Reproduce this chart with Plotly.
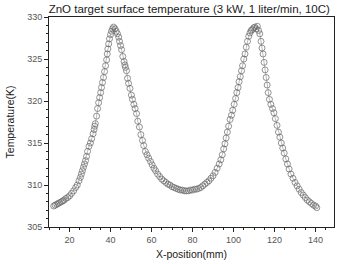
import plotly.graph_objects as go

x_pos = [12.3, 13, 13.8, 14.5, 15.2, 16, 16.7, 17.4, 18.2, 19.1, 20, 21, 22, 23, 23.8, 24.6, 25.3, 25.8,
         26.3, 26.8, 27.3, 27.8, 28.3, 28.8, 29.5, 30.2, 30.8, 31.5, 32, 32.3, 32.6, 33.2, 33.7, 34.2,
         34.7, 35.2, 35.6, 36.1, 36.6, 37.1, 37.6, 38.1, 38.4, 38.7, 39.1, 39.5, 40, 40.5, 41.0, 41.5,
         42.2, 42.8, 43.4, 44, 44.4, 44.9, 45.4, 46, 46.6, 47.0, 47.3, 47.8, 48.3, 48.8, 49.5, 50.2,
         50.7, 51.4, 52, 52.7, 53.3, 54.1, 54.8, 55.6, 56.2, 57, 57.8, 58.6, 59.5, 60.3, 61.2, 62, 63,
         64, 65, 66, 67, 68, 69, 70, 71, 72, 73, 74, 75, 76, 77, 78, 79, 80, 81, 82, 83, 84, 85, 86, 87,
         88, 89, 90, 91, 92, 93, 93.8, 94.5, 95.2, 95.8, 96.4, 97, 97.6, 98.3, 99, 99.6, 100.3, 101,
         101.6, 102.2, 102.7, 103.3, 103.9, 104.4, 105, 105.6, 106.2, 106.8, 107.4, 108, 108.6, 109.2,
         109.8, 110.4, 111, 111.6, 112.2, 112.8, 113.4, 113.9, 114.4, 114.9, 115.4, 115.9, 116.4, 116.9,
         117.5, 118.2, 119, 119.7, 120.4, 121.2, 121.9, 122.6, 123.3, 124, 124.7, 125.5, 126.3, 127.1,
         128, 129, 130, 131, 132, 133, 134, 135, 136, 137, 138, 139, 140, 140.6]

temp = [307.5, 307.6, 307.7, 307.8, 307.9, 308.0, 308.1, 308.2, 308.4, 308.5, 308.7, 309.0, 309.3, 309.7,
        310.0, 310.5, 310.9, 311.3, 311.7, 312.1, 312.5, 312.9, 313.4, 314.0, 314.6, 315.0, 315.5, 316.1,
        316.6, 317.0, 317.3, 318.2, 319.1, 319.8, 320.4, 321.0, 321.6, 322.2, 322.8, 323.5, 324.2, 324.9,
        325.6, 326.2, 326.8, 327.4, 327.9, 328.3, 328.6, 328.8, 328.6, 328.3, 328.0, 327.6, 327.1, 326.6,
        326.1, 325.3, 324.7, 324.3, 324.0, 323.6, 322.7, 322.1, 321.5, 320.7, 320.2, 319.6, 319.1, 318.5,
        317.6, 316.9, 316.0, 315.3, 314.7, 314.0, 313.6, 313.2, 312.8, 312.4, 312.0, 311.7, 311.3, 311.0,
        310.7, 310.5, 310.3, 310.1, 310.0, 309.8, 309.7, 309.6, 309.5, 309.4, 309.4, 309.3, 309.3, 309.3,
        309.4, 309.4, 309.5, 309.5, 309.6, 309.7, 309.9, 310.1, 310.3, 310.5, 310.8, 311.1, 311.5, 312.0,
        312.5, 313.0, 313.6, 314.3, 314.9, 315.6, 316.3, 317.0, 317.8, 318.3, 318.9, 319.6, 320.3, 321.0,
        321.6, 322.3, 322.9, 323.6, 324.2, 325.0, 325.6, 326.4, 327.1, 327.7, 328.1, 328.4, 328.5, 328.7,
        328.8, 328.6, 328.9, 328.4, 328.0, 327.1, 326.3, 325.6, 324.6, 323.7, 322.8, 321.9, 321.0, 320.2,
        319.6, 319.1, 318.6, 317.9, 317.1, 316.3, 315.7, 315.0, 314.4, 313.8, 313.1, 312.5, 311.9, 311.3,
        310.8, 310.3, 309.9, 309.5, 309.1, 308.8, 308.5, 308.2, 308.0, 307.8, 307.6, 307.5, 307.3]

title_text = "ZnO target surface temperature (3 kW, 1 liter/min, 10C)"
x_title = "X-position(mm)"
y_title = "Temperature(K)"

fig = go.Figure()
fig.add_trace(go.Scatter(
    x=x_pos, y=temp, mode="lines+markers",
    line=dict(color="#888888", width=0.6),
    marker=dict(symbol="circle-open", size=6, color="#666666", line=dict(width=0.7)),
    showlegend=False,
))

axis_common = dict(
    showline=True, linecolor="#222222", linewidth=1, mirror=True,
    ticks="outside", ticklen=4, tickcolor="#222222", tickwidth=1,
    showgrid=False, zeroline=False,
    tickfont=dict(family="Liberation Sans, Arial", size=9, color="#555555"),
)

fig.update_layout(
    width=341, height=264,
    margin=dict(l=49, r=6, t=17, b=33),
    paper_bgcolor="white", plot_bgcolor="white",
    title=dict(text=title_text, x=0.555, xanchor="center", y=1 - 9 / 264, yanchor="middle",
               yref="container",
               font=dict(family="Liberation Sans, Arial", size=11.5, color="#222222")),
    xaxis=dict(axis_common, range=[10, 149], tick0=0, dtick=20,
               minor=dict(dtick=5, ticklen=2, ticks="outside", tickcolor="#222222"),
               title=dict(text=x_title, standoff=6,
                          font=dict(family="Liberation Sans, Arial", size=10.5, color="#222222"))),
    yaxis=dict(axis_common, range=[305, 330], dtick=5,
               minor=dict(dtick=1, ticklen=2, ticks="outside", tickcolor="#222222"),
               title=dict(text=y_title, standoff=10,
                          font=dict(family="Liberation Sans, Arial", size=10.5, color="#222222"))),
)

fig.write_html("out.html")
